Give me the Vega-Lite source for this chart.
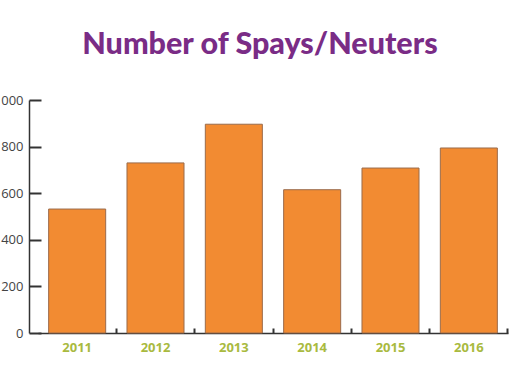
{
  "$schema": "https://vega.github.io/schema/vega-lite/v6.json",
  "width": 488,
  "height": 233,
  "autosize": "none",
  "padding": {"left": 22, "top": 100, "right": 0, "bottom": 49},
  "title": {
    "text": "Number of Spays/Neuters",
    "font": "Lato",
    "fontWeight": 900,
    "fontSize": 30.5,
    "color": "#7A2C86",
    "anchor": "middle",
    "frame": "group",
    "dx": -6,
    "offset": 34
  },
  "data": {
    "values": [
      {"year": "2011", "count": 532},
      {"year": "2012", "count": 730},
      {"year": "2013", "count": 896},
      {"year": "2014", "count": 615},
      {"year": "2015", "count": 708},
      {"year": "2016", "count": 794}
    ]
  },
  "mark": {
    "type": "bar",
    "width": {"band": 0.728},
    "fill": "#F28B32",
    "stroke": "#9A6B4B",
    "strokeWidth": 1
  },
  "encoding": {
    "x": {
      "field": "year",
      "type": "ordinal",
      "scale": {"range": [16, 486], "paddingInner": 0, "paddingOuter": 0},
      "axis": {
        "title": null,
        "labelAngle": 0,
        "bandPosition": 1,
        "tickSize": -5,
        "tickWidth": 2,
        "tickColor": "#333333",
        "domainColor": "#333333",
        "domainWidth": 1.5,
        "labelPadding": 13,
        "labelFont": "Open Sans",
        "labelFontWeight": "bold",
        "labelFontSize": 13,
        "labelColor": "#A9BA3F"
      }
    },
    "y": {
      "field": "count",
      "type": "quantitative",
      "scale": {"domain": [0, 1000]},
      "axis": {
        "title": null,
        "values": [0, 200, 400, 600, 800, 1000],
        "format": "d",
        "offset": -7,
        "grid": false,
        "tickSize": -12,
        "tickWidth": 2,
        "tickColor": "#333333",
        "domainColor": "#333333",
        "domainWidth": 1.5,
        "labelPadding": 18,
        "labelFont": "Open Sans",
        "labelFontSize": 13,
        "labelColor": "#444444"
      }
    }
  },
  "config": {"view": {"stroke": null}}
}
